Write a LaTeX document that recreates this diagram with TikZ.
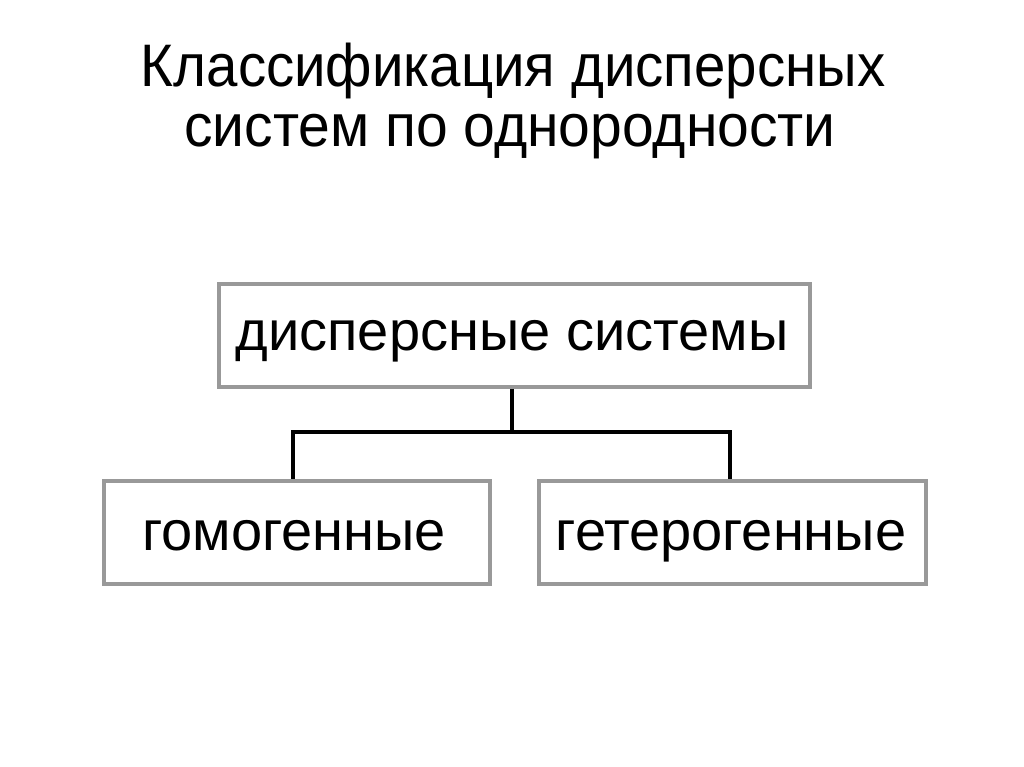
\documentclass[tikz,border=0pt]{standalone}
\usepackage{fontspec}
\setmainfont{Liberation Sans}
\tikzset{
  box/.style={draw=black!40, line width=3.5pt, fill=white, inner sep=0pt, anchor=north west},
  conn/.style={draw=black, line width=4pt},
  ttl/.style={font=\fontsize{60}{60}\selectfont, inner sep=0pt, anchor=base},
  lbl/.style={font=\fontsize{56}{60}\selectfont, inner sep=0pt, anchor=base}
}
\begin{document}
\begin{tikzpicture}[x=1pt,y=-1pt]
\useasboundingbox (0,0) rectangle (1024,767);
\fill[white] (0,0) rectangle (1024,767);
\node[ttl] (title1) at (513,87) {\scalebox{0.94}[1]{Классификация дисперсных}};
\node[ttl] (title2) at (510,147) {\scalebox{0.95}[1]{систем по однородности}};
\node[box, minimum width=591pt, minimum height=103pt] (top) at (217,282) {};
\node[box, minimum width=386pt, minimum height=103pt] (left) at (102,479) {};
\node[box, minimum width=387pt, minimum height=103pt] (right) at (537,479) {};
\node[lbl] (tl) at (512,350) {дисперсные системы};
\node[lbl] (ll) at (294,550) {гомогенные};
\node[lbl] (rl) at (731,550) {гетерогенные};
\coordinate (j) at (512,432);
\coordinate (jl) at (293,432);
\coordinate (jr) at (730,432);
\draw[conn] (top.south -| j) -- (j);
\draw[conn] ([xshift=-2pt]jl) -- ([xshift=2pt]jr);
\draw[conn] (jl) -- (jl |- left.north);
\draw[conn] (jr) -- (jr |- right.north);
\end{tikzpicture}
\end{document}
